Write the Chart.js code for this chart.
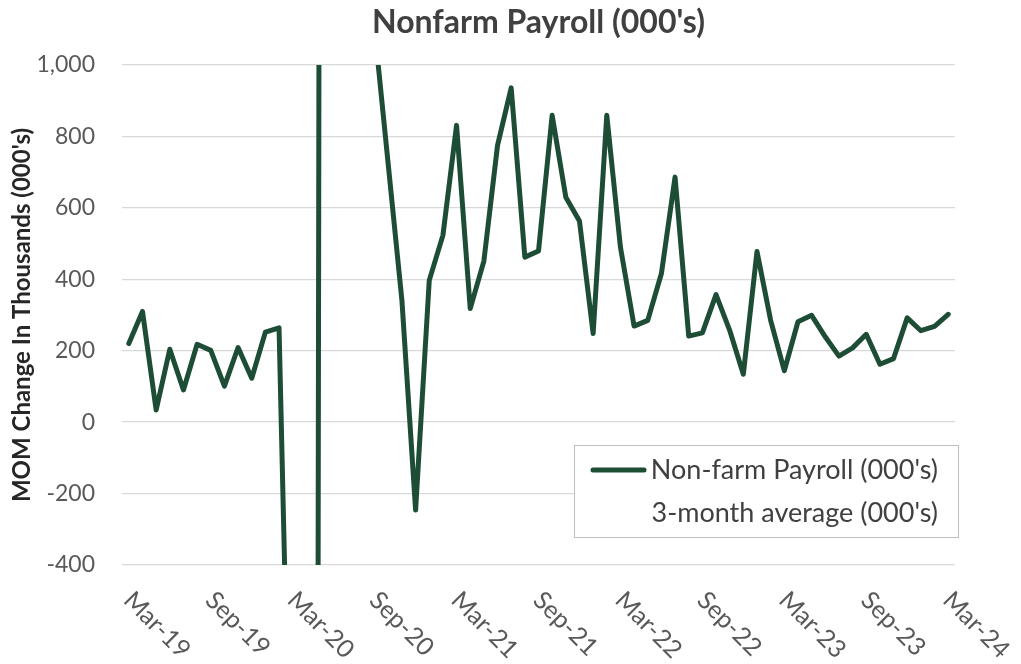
<!DOCTYPE html>
<html>
<head>
<meta charset="utf-8">
<script src="https://cdn.jsdelivr.net/npm/chart.js@4.4.1/dist/chart.umd.min.js"></script>
<style>
  body { margin: 0; background: #fff; }
  #wrap { width: 1021px; height: 664px; position: relative; }
</style>
</head>
<body>
<div id="wrap"><canvas id="nfp-chart"></canvas></div>
<script>
// monthly categories, Mar-19 .. Mar-24
const months = [
    'Mar-19','Apr-19','May-19','Jun-19','Jul-19','Aug-19','Sep-19','Oct-19','Nov-19','Dec-19',
    'Jan-20','Feb-20','Mar-20','Apr-20','May-20','Jun-20','Jul-20','Aug-20','Sep-20','Oct-20','Nov-20','Dec-20',
    'Jan-21','Feb-21','Mar-21','Apr-21','May-21','Jun-21','Jul-21','Aug-21','Sep-21','Oct-21','Nov-21','Dec-21',
    'Jan-22','Feb-22','Mar-22','Apr-22','May-22','Jun-22','Jul-22','Aug-22','Sep-22','Oct-22','Nov-22','Dec-22',
    'Jan-23','Feb-23','Mar-23','Apr-23','May-23','Jun-23','Jul-23','Aug-23','Sep-23','Oct-23','Nov-23','Dec-23',
    'Jan-24','Feb-24','Mar-24'
];

// MOM change, thousands
const payroll = [
    220, 310, 34, 204, 90, 218, 201, 101, 209, 123,
    252, 264, -1370, -20477, 2833, 4846, 1726, 1583, 1100, 720, 340, -246,
    397, 523, 831, 318, 451, 775, 936, 462, 479, 859, 630, 563,
    248, 859, 490, 269, 285, 416, 686, 241, 250, 357, 257, 134,
    478, 285, 144, 281, 299, 239, 185, 208, 246, 162, 178, 292,
    256, 268, 302
];

// second series only shows up in the legend
const threeMonthAvg = [];

const xTickLabels = ['Mar-19','Sep-19','Mar-20','Sep-20','Mar-21','Sep-21','Mar-22','Sep-22','Mar-23','Sep-23','Mar-24'];
const yTicks = [-400, -200, 0, 200, 400, 600, 800, 1000];

const chartTitle = "Nonfarm Payroll (000's)";
const fontFamily = "Lato, 'Open Sans', sans-serif";
const green = '#1e4d36';

// title centred over the plot area
const plotTitle = {
    id: 'plotTitle',
    afterDraw(chart) {
        const ctx = chart.ctx;
        const area = chart.chartArea;
        ctx.save();
        ctx.font = 'bold 32px ' + fontFamily;
        ctx.fillStyle = '#404040';
        ctx.textAlign = 'center';
        ctx.textBaseline = 'middle';
        ctx.fillText(chartTitle, (area.left + area.right) / 2, 23);
        ctx.restore();
    }
};

// rotated month labels under the plot (Excel style, going down to the right)
const slantLabels = {
    id: 'slantLabels',
    afterDraw(chart) {
        const ctx = chart.ctx;
        const x = chart.scales.x;
        const area = chart.chartArea;
        ctx.save();
        ctx.font = '25px ' + fontFamily;
        ctx.fillStyle = '#595959';
        ctx.textAlign = 'left';
        ctx.textBaseline = 'middle';
        xTickLabels.forEach(function (lbl) {
            let px = x.getPixelForValue(months.indexOf(lbl));
            ctx.save();
            ctx.translate(px - 1, area.bottom + 31);
            ctx.rotate(Math.PI / 4);
            ctx.fillText(lbl, 0, 0);
            ctx.restore();
        });
        ctx.restore();
    }
};

// boxed legend inside the plot, lower right
const boxLegend = {
    id: 'boxLegend',
    afterDraw(chart) {
        const ctx = chart.ctx;
        const left = 574, top = 445, w = 384, h = 92;
        ctx.save();
        ctx.fillStyle = '#ffffff';
        ctx.fillRect(left, top, w, h);
        ctx.strokeStyle = '#bfbfbf';
        ctx.lineWidth = 1;
        ctx.strokeRect(left + 0.5, top + 0.5, w, h);
        ctx.font = '27px ' + fontFamily;
        ctx.fillStyle = '#404040';
        ctx.textAlign = 'right';
        ctx.textBaseline = 'middle';
        chart.data.datasets.forEach(function (ds, i) {
            let y = top + 25 + i * 43;
            if (ds.data.length) {
                ctx.strokeStyle = ds.borderColor;
                ctx.lineWidth = 5;
                ctx.lineCap = 'round';
                ctx.beginPath();
                ctx.moveTo(left + 19, y);
                ctx.lineTo(left + 70, y);
                ctx.stroke();
            }
            ctx.fillText(ds.label, left + w - 20, y);
        });
        ctx.restore();
    }
};

new Chart(document.getElementById('nfp-chart'), {
    type: 'line',
    data: {
        labels: months,
        datasets: [
            {
                label: "Non-farm Payroll (000's)",
                data: payroll,
                borderColor: green,
                borderWidth: 5,
                borderJoinStyle: 'round',
                borderCapStyle: 'round',
                pointRadius: 0,
                tension: 0,
                clip: 0,
            }, {
                label: "3-month average (000's)",
                data: threeMonthAvg,
                borderColor: 'rgba(0,0,0,0)',
                pointRadius: 0,
            }
        ]
    },
    options: {
        responsive: true,
        maintainAspectRatio: false,
        animation: false,
        layout: { padding: { top: 65, right: 66, left: 0, bottom: 0 } },
        plugins: {
            legend: { display: false },
            tooltip: { enabled: false },
            title: { display: false }
        },
        scales: {
            x: {
                type: 'category',
                offset: true,
                grid: { display: false },
                border: { display: false },
                ticks: { display: false },
                afterFit: function (scale) { scale.height = 99; }
            },
            y: {
                min: -400,
                max: 1000,
                afterBuildTicks: function (scale) {
                    scale.ticks = yTicks.map(function (v) { return { value: v }; });
                },
                grid: { color: '#d9d9d9', lineWidth: 1.3, drawTicks: false },
                border: { display: false },
                ticks: {
                    color: '#595959',
                    padding: 27,
                    font: { family: fontFamily, size: 23 },
                    callback: function (v) { return v.toLocaleString('en-US'); }
                },
                title: {
                    display: true,
                    text: "MOM Change In Thousands (000's)",
                    color: '#262626',
                    font: { family: fontFamily, size: 24, weight: 'bold' },
                    padding: { top: 8, bottom: 0 }
                },
                afterFit: function (scale) { scale.width = 122; }
            }
        }
    },
    plugins: [plotTitle, slantLabels, boxLegend]
});
</script>
</body>
</html>
